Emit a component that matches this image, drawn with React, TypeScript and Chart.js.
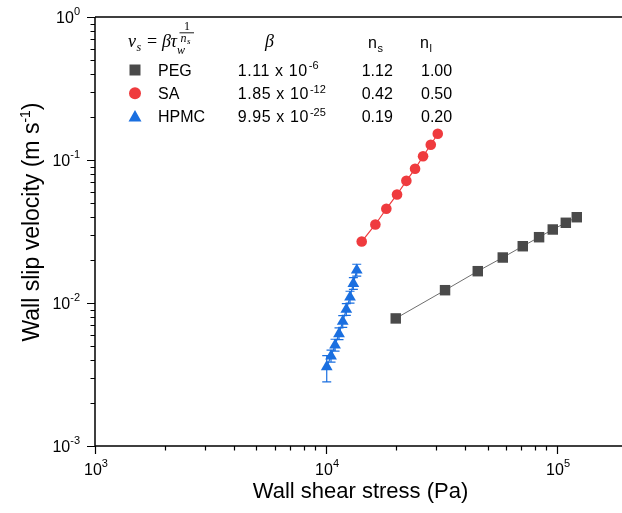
import React, { useEffect, useRef } from "react";
import { Chart, registerables } from "chart.js";

Chart.register(...registerables);

// ---- data ----
const pegX = [20030, 32740, 45370, 58210, 71040, 83580, 95800, 109100, 121700];
const pegY = [0.0078, 0.01229, 0.01669, 0.0208, 0.02495, 0.02885, 0.03266, 0.03638, 0.0398];
const saX = [14270, 16350, 18240, 20290, 22270, 24280, 26300, 28400, 30450];
const saY = [0.0269, 0.0354, 0.0456, 0.0574, 0.0715, 0.0868, 0.1063, 0.1278, 0.1525];
const hpmcX = [10070, 10510, 10940, 11380, 11810, 12240, 12700, 13130, 13580];
const hpmcY = [0.00358, 0.00425, 0.00507, 0.00609, 0.00743, 0.00901, 0.01098, 0.01369, 0.01696];
const hpmcLow = [0.00281, 0.00386, 0.00461, 0.00554, 0.00675, 0.00819, 0.00998, 0.01245, 0.01542];
const hpmcHigh = [0.00428, 0.00468, 0.00558, 0.0067, 0.00817, 0.00991, 0.01208, 0.01506, 0.01866];

const seriesNames = ["PEG", "SA", "HPMC"];
const betaBase = ["1.11 x 10", "1.85 x 10", "9.95 x 10"];
const betaExp = ["-6", "-12", "-25"];
const nsValues = ["1.12", "0.42", "0.19"];
const nlValues = ["1.00", "0.50", "0.20"];

const xMajor = [3, 4, 5];
const yMajor = [0, -1, -2, -3];

const X_MIN = 1000;
const X_MAX = 191000;
const Y_MIN = 0.001;
const Y_MAX = 1;

const GRAY = "#4a4a4a";
const RED = "#ef3b3e";
const BLUE = "#1a6fe0";
const SANS = '"Liberation Sans", Arial, sans-serif';
const SERIF = '"Liberation Serif", "Times New Roman", serif';

function zip(xs: number[], ys: number[]) {
  return xs.map((x, i) => ({ x, y: ys[i] }));
}

function drawSup(
  ctx: CanvasRenderingContext2D,
  base: string,
  sup: string,
  x: number,
  y: number,
  size: number,
  supSize: number,
  rise: number,
  align: "left" | "center" | "right"
) {
  ctx.textAlign = "left";
  ctx.textBaseline = "alphabetic";
  ctx.font = `${size}px ${SANS}`;
  const wb = ctx.measureText(base).width;
  ctx.font = `${supSize}px ${SANS}`;
  const ws = ctx.measureText(sup).width;
  const total = wb + ws;
  let x0 = x;
  if (align === "center") x0 = x - total / 2;
  if (align === "right") x0 = x - total;
  ctx.font = `${size}px ${SANS}`;
  ctx.fillText(base, x0, y);
  ctx.font = `${supSize}px ${SANS}`;
  ctx.fillText(sup, x0 + wb, y - rise);
}

function drawMarker(ctx: CanvasRenderingContext2D, kind: string, x: number, y: number) {
  ctx.beginPath();
  if (kind === "rect") {
    ctx.fillStyle = GRAY;
    ctx.rect(x - 5.5, y - 5.5, 11, 11);
  } else if (kind === "circle") {
    ctx.fillStyle = RED;
    ctx.arc(x, y, 6, 0, Math.PI * 2);
  } else {
    ctx.fillStyle = BLUE;
    ctx.moveTo(x, y - 6.5);
    ctx.lineTo(x + 6.5, y + 5);
    ctx.lineTo(x - 6.5, y + 5);
    ctx.closePath();
  }
  ctx.fill();
}

const decorPlugin = {
  id: "decor",
  beforeDatasetsDraw(chart: any) {
    const ctx: CanvasRenderingContext2D = chart.ctx;
    const xs = chart.scales.x;
    const ys = chart.scales.y;
    ctx.save();
    ctx.strokeStyle = BLUE;
    ctx.lineWidth = 1.2;
    hpmcX.forEach((xv, i) => {
      const px = xs.getPixelForValue(xv);
      const pl = ys.getPixelForValue(hpmcLow[i]);
      const ph = ys.getPixelForValue(hpmcHigh[i]);
      ctx.beginPath();
      ctx.moveTo(px, pl);
      ctx.lineTo(px, ph);
      ctx.moveTo(px - 4.5, pl);
      ctx.lineTo(px + 4.5, pl);
      ctx.moveTo(px - 4.5, ph);
      ctx.lineTo(px + 4.5, ph);
      ctx.stroke();
    });
    ctx.restore();
  },
  afterDraw(chart: any) {
    const ctx: CanvasRenderingContext2D = chart.ctx;
    const xs = chart.scales.x;
    const ys = chart.scales.y;
    const a = chart.chartArea;
    ctx.save();
    ctx.strokeStyle = "#000";
    ctx.fillStyle = "#000";
    ctx.lineWidth = 1.5;
    // frame: left, bottom, top
    ctx.beginPath();
    ctx.moveTo(a.left, a.top);
    ctx.lineTo(a.left, a.bottom);
    ctx.lineTo(a.right, a.bottom);
    ctx.moveTo(a.left, a.top);
    ctx.lineTo(a.right, a.top);
    ctx.stroke();

    // x ticks
    ctx.lineWidth = 1.2;
    ctx.beginPath();
    for (let d = 3; d <= 5; d++) {
      for (let m = 1; m <= 9; m++) {
        const v = m * Math.pow(10, d);
        if (v < X_MIN || v > X_MAX) continue;
        const px = Math.round(xs.getPixelForValue(v)) + 0.5;
        const len = m === 1 ? 8 : 4.5;
        ctx.moveTo(px, a.bottom);
        ctx.lineTo(px, a.bottom + len);
      }
    }
    // y ticks
    for (let d = -3; d <= 0; d++) {
      for (let m = 1; m <= 9; m++) {
        const v = m * Math.pow(10, d);
        if (v < Y_MIN - 1e-12 || v > Y_MAX + 1e-12) continue;
        const py = Math.round(ys.getPixelForValue(v)) + 0.5;
        const len = m === 1 ? 8 : 4.5;
        ctx.moveTo(a.left, py);
        ctx.lineTo(a.left - len, py);
      }
    }
    ctx.stroke();

    // tick labels
    xMajor.forEach((e) => {
      const px = xs.getPixelForValue(Math.pow(10, e));
      drawSup(ctx, "10", String(e), px + 1, a.bottom + 29, 16, 11, 8, "center");
    });
    yMajor.forEach((e) => {
      const py = ys.getPixelForValue(Math.pow(10, e));
      drawSup(ctx, "10", String(e), a.left - 15, py + 6, 16, 11, 8, "right");
    });

    // axis titles
    ctx.fillStyle = "#000";
    ctx.font = `22px ${SANS}`;
    ctx.textAlign = "center";
    ctx.textBaseline = "alphabetic";
    ctx.fillText("Wall shear stress (Pa)", (a.left + a.right) / 2 + 2, 498);

    ctx.save();
    ctx.translate(39, 222);
    ctx.rotate(-Math.PI / 2);
    ctx.font = `23px ${SANS}`;
    const t1 = "Wall slip velocity (m s";
    const w1 = ctx.measureText(t1).width;
    ctx.font = `14px ${SANS}`;
    const w2 = ctx.measureText("-1").width;
    ctx.font = `23px ${SANS}`;
    const w3 = ctx.measureText(")").width;
    const tot = w1 + w2 + w3;
    ctx.textAlign = "left";
    ctx.fillText(t1, -tot / 2, 0);
    ctx.font = `14px ${SANS}`;
    ctx.fillText("-1", -tot / 2 + w1, -9);
    ctx.font = `23px ${SANS}`;
    ctx.fillText(")", -tot / 2 + w1 + w2, 0);
    ctx.restore();

    // legend / formula
    ctx.textAlign = "left";
    ctx.fillStyle = "#000";
    ctx.font = `italic 18px ${SERIF}`;
    ctx.fillText("v", 128, 47);
    ctx.font = `italic 12px ${SERIF}`;
    ctx.fillText("s", 136.5, 50.5);
    ctx.font = `18px ${SERIF}`;
    ctx.fillText("=", 147, 47);
    ctx.font = `italic 18px ${SERIF}`;
    ctx.fillText("β", 162, 47);
    ctx.fillText("τ", 170.5, 47);
    ctx.font = `italic 12px ${SERIF}`;
    ctx.fillText("w", 177, 53.5);
    ctx.font = `12px ${SERIF}`;
    ctx.fillText("1", 184, 30);
    ctx.lineWidth = 0.9;
    ctx.beginPath();
    ctx.moveTo(179.5, 32.8);
    ctx.lineTo(194, 32.8);
    ctx.stroke();
    ctx.font = `italic 12px ${SERIF}`;
    ctx.fillText("n", 180.5, 41.5);
    ctx.font = `italic 9px ${SERIF}`;
    ctx.fillText("s", 187, 43.5);

    ctx.font = `italic 18px ${SERIF}`;
    ctx.fillText("β", 265, 47);

    ctx.font = `16px ${SANS}`;
    ctx.fillText("n", 368, 48);
    ctx.font = `11px ${SANS}`;
    ctx.fillText("s", 377.5, 52);
    ctx.font = `16px ${SANS}`;
    ctx.fillText("n", 420, 48);
    ctx.font = `11px ${SANS}`;
    ctx.fillText("l", 429.5, 52);

    const rowBase = [75.7, 99, 122.3];
    const kinds = ["rect", "circle", "triangle"];
    seriesNames.forEach((name, i) => {
      const yb = rowBase[i];
      drawMarker(ctx, kinds[i], 135, yb - 5.7);
      ctx.fillStyle = "#000";
      ctx.font = `16px ${SANS}`;
      ctx.textAlign = "left";
      ctx.fillText(name, 158, yb);
      ctx.save();
      ctx.font = `16px ${SANS}`;
      (ctx as any).letterSpacing = "0.6px";
      ctx.fillText(betaBase[i], 237.7, yb);
      const wb = ctx.measureText(betaBase[i]).width;
      ctx.restore();
      ctx.font = `11px ${SANS}`;
      ctx.fillText(betaExp[i], 237.7 + wb + 1, yb - 6.5);
      ctx.font = `16px ${SANS}`;
      ctx.fillText(nsValues[i], 361.7, yb);
      ctx.fillText(nlValues[i], 421, yb);
    });
    ctx.restore();
  },
};

export default function App() {
  const ref = useRef<HTMLCanvasElement | null>(null);
  useEffect(() => {
    if (!ref.current) return;
    const chart = new Chart(ref.current, {
      type: "scatter",
      data: {
        datasets: [
          {
            label: "PEG",
            data: zip(pegX, pegY),
            showLine: true,
            borderColor: "#6e6e6e",
            borderWidth: 1,
            backgroundColor: GRAY,
            pointStyle: "rect",
            pointRadius: 7.4,
            pointBorderWidth: 0,
            pointBackgroundColor: GRAY,
          },
          {
            label: "SA",
            data: zip(saX, saY),
            showLine: true,
            borderColor: RED,
            borderWidth: 1.2,
            backgroundColor: RED,
            pointStyle: "circle",
            pointRadius: 5.3,
            pointBorderWidth: 0,
            pointBackgroundColor: RED,
          },
          {
            label: "HPMC",
            data: zip(hpmcX, hpmcY),
            showLine: true,
            borderColor: BLUE,
            borderWidth: 1.2,
            backgroundColor: BLUE,
            pointStyle: "triangle",
            pointRadius: 6.8,
            pointBorderWidth: 0,
            pointBackgroundColor: BLUE,
          },
        ],
      },
      options: {
        animation: false,
        responsive: false,
        maintainAspectRatio: false,
        layout: { autoPadding: false, padding: { top: 17, right: 0, left: 0, bottom: 0 } },
        plugins: {
          legend: { display: false },
          tooltip: { enabled: false },
        },
        scales: {
          x: {
            type: "logarithmic",
            min: X_MIN,
            max: X_MAX,
            ticks: { display: false },
            grid: { display: false },
            border: { display: false },
            afterFit: (s: any) => {
              s.height = 67;
            },
          },
          y: {
            type: "logarithmic",
            min: Y_MIN,
            max: Y_MAX,
            ticks: { display: false },
            grid: { display: false },
            border: { display: false },
            afterFit: (s: any) => {
              s.width = 95;
            },
          },
        },
      },
      plugins: [decorPlugin],
    } as any);
    return () => chart.destroy();
  }, []);
  return (
    <div style={{ position: "absolute", left: 0, top: 0, width: 622, height: 513, background: "#fff" }}>
      <canvas ref={ref} width={622} height={513} style={{ display: "block" }} />
    </div>
  );
}
